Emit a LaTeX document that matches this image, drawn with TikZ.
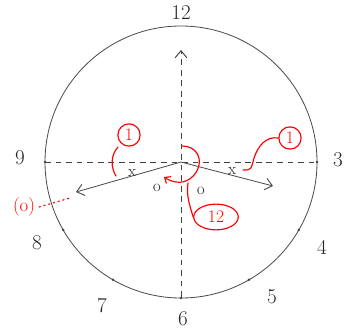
\documentclass[tikz,border=0pt]{standalone}
\usepackage{tikz}
\usetikzlibrary{arrows.meta, positioning, calc, shapes.geometric}
\newcommand{\clockTick}[1]{%
	\fill[black!75] ($(O)+({136*sin(30*#1)},{-136*cos(30*#1)})$) circle (1.4);}

\begin{document}
\begin{tikzpicture}[x=0.03cm, y=-0.03cm,
	hour/.style={font=\fontsize{18}{21}\selectfont, text=black!85},
	hand/.style={draw=black!70, line width=0.7pt},
	axis/.style={draw=black!75, line width=0.6pt, dash pattern=on 5pt off 4pt},
	redline/.style={draw=red, line width=1pt, line cap=round},
	circnum/.style={draw=red, circle, text=red, line width=1pt, minimum size=19pt, inner sep=0pt, font=\fontsize{15}{17}\selectfont},
	smallmark/.style={font=\fontsize{14}{16}\selectfont, text=black!75, inner sep=0pt},
	barb/.style={-{Straight Barb[length=6pt, width=10pt, line width=0.8pt]}}]
	\useasboundingbox (0,0) rectangle (349,332);
	\coordinate (O) at (181,162);
	\draw[black!70, line width=0.7pt] (O) circle (136);
	% axes
	\coordinate (W) at (45,162); \coordinate (E) at (317,162);
	\coordinate (S) at (181,297); \coordinate (N) at (181,50);
	\draw[axis] (W) -- (E);
	\draw[axis, barb] (S) -- (N);
	\foreach \h in {3,...,9} {\clockTick{\h}}
	% hour numbers
	\node[hour] (h12) at (181,13) {12};
	\node[hour] (h3) at (338,160) {3};
	\node[hour] (h4) at (322,247) {4};
	\node[hour] (h5) at (272,297) {5};
	\node[hour] (h6) at (183,319) {6};
	\node[hour] (h7) at (102,306) {7};
	\node[hour] (h8) at (37,243) {8};
	\node[hour] (h9) at (20,158) {9};
	% hands
	\coordinate (L) at (76,192); \coordinate (R) at (273,186);
	\draw[hand, barb] (O) -- (L);
	\draw[hand, barb] (O) -- (R);
	\node[smallmark] (xl) at (132,173) {x};
	\node[smallmark] (xr) at (232,171) {x};
	\node[smallmark] (ol) at (157,188) {o};
	\node[smallmark] (or) at (201,191) {o};
	% red notes
	\node[circnum] (c1l) at (129,135) {1};
	\node[circnum] (c1r) at (290,138) {1};
	\node[circnum, ellipse, minimum width=38, minimum height=22, inner sep=0pt] (c12) at (216,217) {12};
	\node[text=red, font=\fontsize{16}{18}\selectfont] (zero) at (24,207) {(o)};
	\draw[redline] (118,147) .. controls (110,156) and (111,168) .. (116,176);
	\draw[redline] (c1r.west) .. controls (266,136) and (258,146) .. (254,158)
		.. controls (251,170) .. (243,170);
	\draw[redline, -{Straight Barb[length=4pt, width=7pt]}] (182,146)
		.. controls (195,146) and (201,156) .. (199,165)
		.. controls (197,176) and (186,184) .. (176,182)
		.. controls (170,181) and (167,179) .. (164,177);
	\draw[redline] (188,183) .. controls (186,196) and (190,206) .. (c12.west);
	\draw[redline, dash pattern=on 1.2pt off 3pt] (zero.east) -- (70,198);
\end{tikzpicture}
\end{document}
